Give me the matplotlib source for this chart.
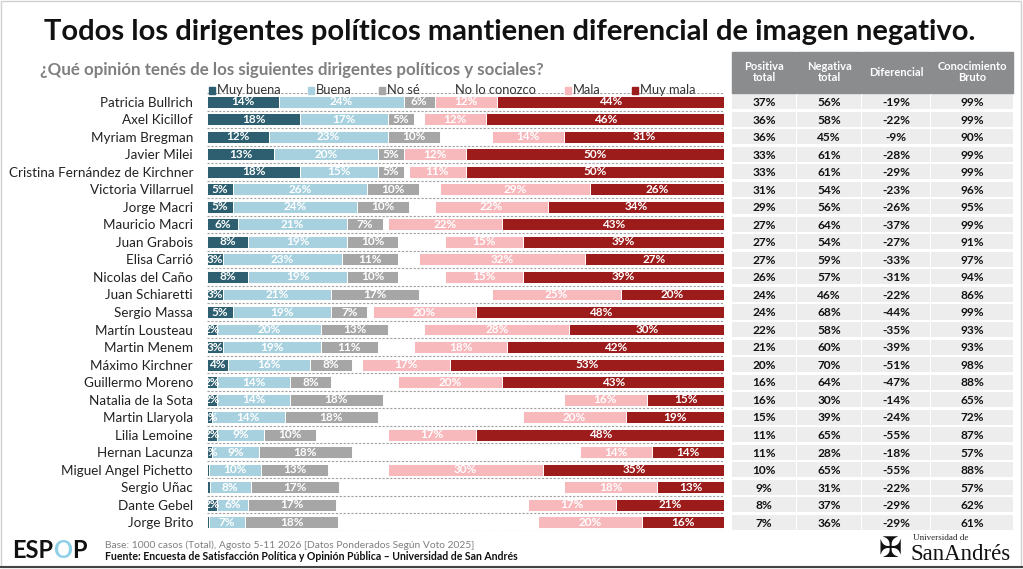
import matplotlib
matplotlib.use('Agg')
import matplotlib.pyplot as plt
from matplotlib.patches import Rectangle
import numpy as np

plt.rcParams['font.family'] = ['Lato', 'DejaVu Sans']

# Data
nombres = ['Patricia Bullrich', 'Axel Kicillof', 'Myriam Bregman', 'Javier Milei',
           'Cristina Fernández de Kirchner', 'Victoria Villarruel', 'Jorge Macri',
           'Mauricio Macri', 'Juan Grabois', 'Elisa Carrió', 'Nicolas del Caño',
           'Juan Schiaretti', 'Sergio Massa', 'Martín Lousteau', 'Martin Menem',
           'Máximo Kirchner', 'Guillermo Moreno', 'Natalia de la Sota', 'Martin Llaryola',
           'Lilia Lemoine', 'Hernan Lacunza', 'Miguel Angel Pichetto', 'Sergio Uñac',
           'Dante Gebel', 'Jorge Brito']
muy_buena = [14, 18, 12, 13, 18, 5, 5, 6, 8, 3, 8, 3, 5, 2, 3, 4, 2, 2, 1, 2, 1, 0.4, 0.5, 2, 0.4]
buena = [24, 17, 23, 20, 15, 26, 24, 21, 19, 23, 19, 21, 19, 20, 19, 16, 14, 14, 14, 9, 9, 10, 8, 6, 7]
no_se = [6, 5, 10, 5, 5, 10, 10, 7, 10, 11, 10, 17, 7, 13, 11, 8, 8, 18, 18, 10, 18, 13, 17, 17, 18]
mala = [12, 12, 14, 12, 11, 29, 22, 22, 15, 32, 15, 25, 20, 28, 18, 17, 20, 16, 20, 17, 14, 30, 18, 17, 20]
muy_mala = [44, 46, 31, 50, 50, 26, 34, 43, 39, 27, 39, 20, 48, 30, 42, 53, 43, 15, 19, 48, 14, 35, 13, 21, 16]

positiva = [37, 36, 36, 33, 33, 31, 29, 27, 27, 27, 26, 24, 24, 22, 21, 20, 16, 16, 15, 11, 11, 10, 9, 8, 7]
negativa = [56, 58, 45, 61, 61, 54, 56, 64, 54, 59, 57, 46, 68, 58, 60, 70, 64, 30, 39, 65, 28, 65, 31, 37, 36]
diferencial = [-19, -22, -9, -28, -29, -23, -26, -37, -27, -33, -31, -22, -44, -35, -39, -51, -47, -14, -24, -55, -18, -55, -22, -29, -29]
conocimiento = [99, 99, 90, 99, 99, 96, 95, 99, 91, 97, 94, 86, 99, 93, 93, 98, 88, 65, 72, 87, 57, 88, 57, 62, 61]

categorias = ['Muy buena', 'Buena', 'No sé', 'No lo conozco', 'Mala', 'Muy mala']
colores = ['#2d5f70', '#a8d1df', '#a6a6a6', '#ffffff', '#f8b9bd', '#9c1c1c']
columnas = ['Positiva\ntotal', 'Negativa\ntotal', 'Diferencial', 'Conocimiento\nBruto']

W, H = 1023, 569
fig = plt.figure(figsize=(W / 100, H / 100), dpi=100)

def fx(px):
    return px / W

def fy(py):
    return 1 - py / H

# main bar axes
top_px, bot_px = 93, 531
ax = fig.add_axes([fx(207), fy(bot_px), fx(727) - fx(207), fy(top_px) - fy(bot_px)])
n = len(nombres)
y = np.arange(n)
mb = np.array(muy_buena)
b = np.array(buena)
ns = np.array(no_se)
ma = np.array(mala)
mm = np.array(muy_mala)

segs = [
    (mb, np.zeros(n), colores[0]),
    (b, mb, colores[1]),
    (ns, mb + b, colores[2]),
    (ma, 100 - mm - ma, colores[4]),
    (mm, 100 - mm, colores[5]),
]
h = 0.68
for vals, left, col in segs:
    bars = ax.barh(y, vals, left=left, height=h, color=col, edgecolor='white', linewidth=0.7, zorder=3)
    for rect, v in zip(bars, vals):
        if v < 1:
            continue
        t = ax.text(rect.get_x() + rect.get_width() / 2, rect.get_y() + h / 2, f'{v:.0f}%',
                    ha='center', va='center', color='white', fontsize=8.5, fontweight='bold', zorder=4)
        t.set_clip_path(rect)

# dashed separators
ax.hlines(np.arange(-0.5, n, 1), 0, 100, colors='#a0a0a0', linestyles=(0, (2, 1.5)), linewidth=0.8, zorder=1)

ax.set_xlim(0, 100.5)
ax.set_ylim(n - 0.5, -0.5)
ax.set_yticks(y)
ax.set_yticklabels(nombres, fontsize=9.7, color='#222222')
ax.tick_params(axis='y', length=0, pad=10)
ax.set_xticks([])
for s in ax.spines.values():
    s.set_visible(False)

# legend, placed by hand
leg_px = [209, 308, 379, 455, 565, 632]
for cat, col, px in zip(categorias, colores, leg_px):
    xa = (px - 207) / 520
    if cat != 'No lo conozco':
        ax.add_patch(Rectangle((xa, 0.998), 0.012, 0.016, transform=ax.transAxes,
                               color=col, clip_on=False))
        xa += 0.015
    ax.text(xa, 0.993, cat, transform=ax.transAxes, ha='left', va='bottom',
            fontsize=9.3, color='#333333')

# table body
axt = fig.add_axes([fx(732), fy(bot_px), fx(1013) - fx(732), fy(top_px) - fy(bot_px)])
col_x = [(0, 64), (65, 129), (130, 198), (199, 281)]
tabla = [positiva, negativa, diferencial, conocimiento]
for (x0, x1), vals in zip(col_x, tabla):
    axt.barh(y, x1 - x0, left=x0, height=0.86, color='#ededed', zorder=1)
    for yi, v in zip(y, vals):
        axt.text((x0 + x1) / 2, yi + 0.05, f'{v}%', ha='center', va='center',
                 fontsize=8.6, fontweight='bold', color='#111111')
axt.set_xlim(0, 281)
axt.set_ylim(n - 0.5, -0.5)
axt.axis('off')

# table header
for (x0, x1), lab in zip(col_x, columnas):
    fig.patches.append(Rectangle((fx(732 + x0), fy(93)), fx(x1 - x0), fy(52) - fy(93),
                                 transform=fig.transFigure, color='#8b8c8e'))
    fig.text(fx(732 + (x0 + x1) / 2), fy(72), lab, ha='center', va='center',
             fontsize=8, fontweight='bold', color='white', linespacing=1.1)

# titles
fig.text(fx(510), fy(32), 'Todos los dirigentes políticos mantienen diferencial de imagen negativo.',
         ha='center', va='center', fontsize=21, fontweight='bold', color='#111111')
fig.text(fx(40), fy(70), '¿Qué opinión tenés de los siguientes dirigentes políticos y sociales?',
         ha='left', va='center', fontsize=12.2, fontweight='bold', color='#7f7f7f')

# footer
t1 = fig.text(fx(12), fy(551), 'ESP', ha='left', va='center', fontsize=17, fontweight='bold',
              color='#111111')
a1 = fig.add_artist(plt.Annotation('O', xy=(1, 0), xycoords=t1, va='bottom', ha='left',
                                   fontsize=17, fontweight='bold', color='#8fd0e8'))
fig.add_artist(plt.Annotation('P', xy=(1, 0), xycoords=a1, va='bottom', ha='left',
                              fontsize=17, fontweight='bold', color='#111111'))
fig.text(fx(105), fy(545), 'Base: 1000 casos (Total), Agosto 5-11 2026 [Datos Ponderados Según Voto 2025]',
         ha='left', va='center', fontsize=7.4, color='#7f7f7f')
fig.text(fx(105), fy(557), 'Fuente: Encuesta de Satisfacción Política y Opinión Pública – Universidad de San Andrés',
         ha='left', va='center', fontsize=7.6, fontweight='bold', color='#111111')

fig.text(fx(890), fy(549), '✠', ha='center', va='center', fontsize=20, color='#111111', family=['DejaVu Sans'])
fig.text(fx(913), fy(538), 'Universidad de', ha='left', va='center', fontsize=6.5,
         color='#222222', family=['Liberation Serif', 'DejaVu Serif'])
fig.text(fx(911), fy(554), 'SanAndrés', ha='left', va='center', fontsize=16.5,
         color='#111111', family=['Liberation Serif', 'DejaVu Serif'])

# frame
fig.patches.append(Rectangle((0.001, 0.004), 0.997, 0.994, transform=fig.transFigure,
                             fill=False, edgecolor='#d0d0d0', linewidth=1))
fig.lines.append(plt.Line2D([0, 1], [0.003, 0.003], transform=fig.transFigure, color='#444444', linewidth=1.5))

fig.savefig('out.png', dpi=100)
